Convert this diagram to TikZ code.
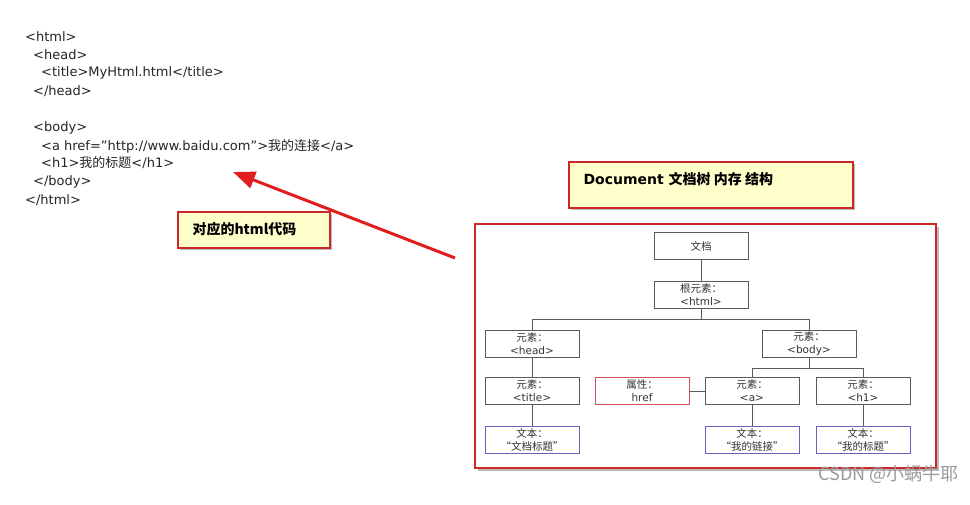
\documentclass[tikz,border=0pt]{standalone}
\usepackage{fontspec}
\setmainfont{DejaVu Sans}
\newfontfamily\cjk{Noto Sans CJK SC}
\usetikzlibrary{arrows.meta,shadows}
\newcommand\zh[1]{{\cjk #1}}
\definecolor{callfill}{RGB}{255,255,204}
\definecolor{callred}{RGB}{204,40,40}
\definecolor{arrred}{RGB}{224,30,30}
\definecolor{treeline}{RGB}{90,90,90}
\definecolor{attrred}{RGB}{210,80,90}
\definecolor{textblue}{RGB}{100,100,190}
\begin{document}
\begin{tikzpicture}[x=1pt,y=-1pt,
  code/.style={anchor=west,inner sep=0pt,font=\fontsize{13}{15}\selectfont,text=black!85},
  callout/.style={fill=callfill,draw=callred,line width=1.3pt,
    drop shadow={shadow xshift=2pt,shadow yshift=-2pt,opacity=0.45,fill=black!60}},
  tnode/.style={draw=treeline,line width=0.8pt,fill=white,minimum width=94pt,minimum height=27pt,
    inner sep=0pt,align=center,font=\fontsize{10.5}{13}\selectfont,text=black!80},
  attr/.style={tnode,draw=attrred},
  txt/.style={tnode,draw=textblue},
  conn/.style={treeline,line width=0.8pt}]
\fill[white] (0,0) rectangle (970,504);
\useasboundingbox (0,0) rectangle (970,504);
% code
\node[code] (c1) at (25,37) {<html>};
\node[code] (c2) at (33,55) {<head>};
\node[code] (c3) at (41,73) {<title>MyHtml.html</title>};
\node[code] (c4) at (33,91) {</head>};
\node[code] (c5) at (33,128) {<body>};
\node[code] (c6) at (41,146) {<a href="http://www.baidu.com">\zh{我的连接}</a>};
\node[code] (c7) at (41,163) {<h1>\zh{我的标题}</h1>};
\node[code] (c8) at (33,182) {</body>};
\node[code] (c9) at (25,200) {</html>};
% callouts
\node[callout,minimum width=152pt,minimum height=36pt,inner sep=0pt] (cb1) at (254,230) {};
\node[anchor=west,font=\cjk\bfseries\fontsize{14}{16}\selectfont] (cb1t) at (189,229) {对应的html代码};
\coordinate (arrtail) at (455,258);
\coordinate (arrhead) at (233,172);
\draw[arrred,line width=3pt,-{Triangle[length=22pt,width=17pt]}] (arrtail) -- (arrhead);
\node[callout,minimum width=284pt,minimum height=46pt,inner sep=0pt] (cb2) at (711,185) {};
\node[anchor=west,font=\bfseries\fontsize{14}{16}\selectfont] (cb2t) at (580,179) {Document \zh{文档树 内存 结构}};
% frame
\node[draw=callred,line width=1.6pt,fill=white,minimum width=461pt,minimum height=244pt,inner sep=0pt,
  drop shadow={shadow xshift=3pt,shadow yshift=-3pt,opacity=0.45,fill=black!60}] (frame) at (705.5,346) {};
% tree
\node[tnode] (doc) at (701,246) {\zh{文档}};
\node[tnode] (html) at (701,295) {\zh{根元素：}\\<html>};
\node[tnode] (head) at (532,344) {\zh{元素：}\\<head>};
\node[tnode] (body) at (809,344) {\zh{元素：}\\<body>};
\node[tnode] (title) at (532,391) {\zh{元素：}\\<title>};
\node[attr] (href) at (642,391) {\zh{属性：}\\href};
\node[tnode] (a) at (752,391) {\zh{元素：}\\<a>};
\node[tnode] (h1) at (863,391) {\zh{元素：}\\<h1>};
\node[txt] (t1) at (532,440) {\zh{文本：}\\\zh{“文档标题”}};
\node[txt] (t2) at (752,440) {\zh{文本：}\\\zh{“我的链接”}};
\node[txt] (t3) at (863,440) {\zh{文本：}\\\zh{“我的标题”}};
\draw[conn] (doc) -- (html);
\draw[conn] (html.south) -- ++(0,10) -| (head.north);
\draw[conn] (html.south) -- ++(0,10) -| (body.north);
\draw[conn] (head) -- (title);
\draw[conn] (title) -- (t1);
\draw[conn] (body.south) -- ++(0,10) -| (a.north);
\draw[conn] (body.south) -- ++(0,10) -| (h1.north);
\draw[conn] (href) -- (a);
\draw[conn] (a) -- (t2);
\draw[conn] (h1) -- (t3);
% watermark
\node[anchor=west,text=black!40,font=\cjk\fontsize{18}{20}\selectfont] (wm) at (815,474) {CSDN @小蜗牛耶};
\end{tikzpicture}
\end{document}
